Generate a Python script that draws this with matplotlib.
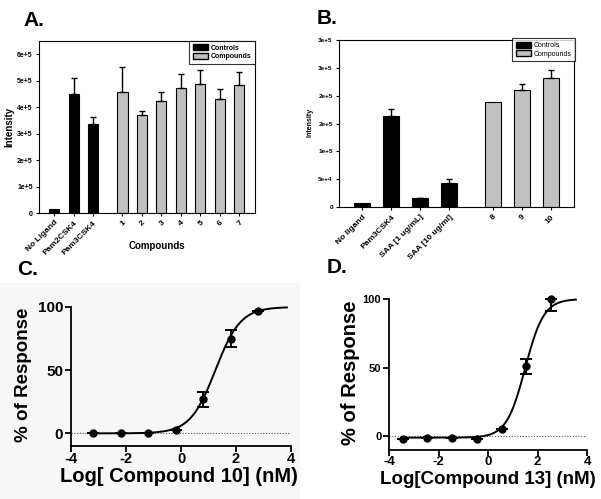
import numpy as np
import matplotlib
matplotlib.use("Agg")
import matplotlib.pyplot as plt
from matplotlib.patches import Patch, Rectangle
from matplotlib.ticker import FixedLocator, FixedFormatter

plt.rcParams['font.family'] = ['Liberation Sans', 'DejaVu Sans']
plt.rcParams['font.weight'] = 'bold'

# ---------------- data ----------------
a_labels = ["No Ligand", "Pam2CSK4", "Pam3CSK4", "1", "2", "3", "4", "5", "6", "7"]
a_is_control = [True, True, True, False, False, False, False, False, False, False]
a_values = [1.5e4, 4.5e5, 3.38e5, 4.57e5, 3.71e5, 4.25e5, 4.71e5, 4.86e5, 4.30e5, 4.85e5]
a_err = [0, 0.60e5, 0.24e5, 0.93e5, 0.16e5, 0.33e5, 0.54e5, 0.54e5, 0.39e5, 0.49e5]
a_yticks = [0, 1e5, 2e5, 3e5, 4e5, 5e5, 6e5]
a_yticklabels = ["0", "1e+5", "2e+5", "3e+5", "4e+5", "5e+5", "6e+5"]

b_labels = ["No ligand", "Pam3CSK4", "SAA [1 ug/mL]", "SAA [10 ug/ml]", "8", "9", "10"]
b_is_control = [True, True, True, True, False, False, False]
b_values = [6.6e3, 1.63e5, 1.6e4, 4.4e4, 1.89e5, 2.11e5, 2.31e5]
b_err = [0, 1.3e4, 1.0e3, 6.0e3, 0, 1.0e4, 1.5e4]
b_yticks = [0, 5e4, 1e5, 1.5e5, 2e5, 2.5e5, 3e5]
b_yticklabels = ["0", "5e+4", "1e+5", "2e+5", "2e+5", "3e+5", "3e+5"]

c_logx = [-3.2, -2.2, -1.2, -0.2, 0.8, 1.8, 2.8]
c_resp = [0, 0, 0, 2.5, 27, 75, 97]
c_err_lo = [0, 0, 0, 0, 6, 7, 0]
c_err_hi = [0, 0, 0, 0, 6, 7, 0]
c_fit = dict(bottom=0.0, top=100.0, logec50=1.25, hill=0.95, xmin=-3.2, xmax=3.85)

d_logx = [-3.45, -2.45, -1.45, -0.45, 0.55, 1.55, 2.55]
d_resp = [-2, -1, -1, -2, 5, 51, 100]
d_err_lo = [0, 0, 0, 0, 0, 5.5, 9]
d_err_hi = [0, 0, 0, 0, 0, 5.5, 0]
d_fit = dict(bottom=-1.0, top=100.0, logec50=1.5, hill=1.15, xmin=-3.45, xmax=3.55)

dose_xticks = [-4, -2, 0, 2, 4]
dose_yticks = [0, 50, 100]

BLACK = "#000000"
GRAY = "#c0c0c0"

W, H = 601, 499
fig = plt.figure(figsize=(W / 100, H / 100), dpi=100)

def rect(l, t, r, b):
    return [l / W, (H - b) / H, (r - l) / W, (b - t) / H]

# faint background behind panel C
bg = Rectangle((0, 0), 300 / W, (H - 283) / H, transform=fig.transFigure,
               facecolor="#f7f7f7", edgecolor="none", zorder=-5)
fig.add_artist(bg)


def bar_panel(ax, labels, is_control, values, err, yticks, yticklabels, ymax, xlim,
              width, fs_ytick, fs_xtick, legend_bbox, fs_leg, leg_weight):
    pos = []
    p = 0.0
    prev = None
    for c in is_control:
        if prev is not None:
            p += 1.0 if c == prev else 1.5
        pos.append(p)
        prev = c
    colors = [BLACK if c else GRAY for c in is_control]
    ax.bar(pos, values, width=width, color=colors, edgecolor=BLACK, linewidth=0.8, zorder=2)
    for x, v, e in zip(pos, values, err):
        if e > 0:
            ax.errorbar([x], [v], yerr=[[0], [e]], fmt="none", ecolor=BLACK,
                        elinewidth=1.0, capsize=2.5, capthick=1.0, zorder=3)
    ax.set_xlim(*xlim)
    ax.set_ylim(0, ymax)
    ax.yaxis.set_major_locator(FixedLocator(yticks))
    ax.yaxis.set_major_formatter(FixedFormatter(yticklabels))
    ax.set_xticks(pos)
    ax.set_xticklabels(labels, rotation=45, ha="right", rotation_mode="anchor",
                       fontsize=fs_xtick, fontweight="bold")
    ax.tick_params(axis="both", direction="out", length=2.5, width=0.8, pad=2)
    ax.tick_params(axis="y", labelsize=fs_ytick)
    for s in ax.spines.values():
        s.set_linewidth(0.8)
    handles = [Patch(facecolor=BLACK, edgecolor=BLACK, label="Controls"),
               Patch(facecolor=GRAY, edgecolor=BLACK, label="Compounds")]
    leg = ax.legend(handles=handles, loc="upper right", bbox_to_anchor=legend_bbox,
                    prop={"size": fs_leg, "weight": leg_weight}, frameon=True, fancybox=False,
                    edgecolor=BLACK, borderpad=0.5, handlelength=2.2, handleheight=0.9,
                    labelspacing=0.2, handletextpad=0.4, borderaxespad=0)
    leg.get_frame().set_linewidth(0.8)


# ---------------- Panel A ----------------
axA = fig.add_axes(rect(39, 41, 255, 213))
bar_panel(axA, a_labels, a_is_control, a_values, a_err, a_yticks, a_yticklabels,
          6.5e5, (-0.78, 10.3), 0.52, 5, 6, (1.0, 1.0), 5, "bold")
fig.text(9 / W, (H - 127) / H, "Intensity", rotation=90, ha="center", va="center",
         fontsize=7, fontweight="bold")
fig.text(157 / W, (H - 246) / H, "Compounds", ha="center", va="center",
         fontsize=7, fontweight="bold")
fig.text(23 / W, (H - 26) / H, "A.", fontsize=15, fontweight="bold", ha="left", va="baseline")

# ---------------- Panel B ----------------
axB = fig.add_axes(rect(339, 40, 574, 207))
bar_panel(axB, b_labels, b_is_control, b_values, b_err, b_yticks, b_yticklabels,
          3e5, (-0.8, 7.3), 0.55, 4.6, 6, (1.005, 1.01), 5, "normal")
fig.text(310 / W, (H - 122) / H, "Intensity", rotation=90, ha="center", va="center",
         fontsize=5, fontweight="bold")
fig.text(317 / W, (H - 24) / H, "B.", fontsize=15, fontweight="bold", ha="left", va="baseline")


# ---------------- dose response panels ----------------
def dose_panel(ax, logx, resp, elo, ehi, fit, fs_xt, fs_yt):
    ax.set_facecolor("none")
    xs = np.linspace(fit["xmin"], fit["xmax"], 300)
    ys = fit["bottom"] + (fit["top"] - fit["bottom"]) / (1 + 10 ** ((fit["logec50"] - xs) * fit["hill"]))
    ax.axhline(0, color="#555555", lw=0.8, ls=(0, (1, 1.5)), zorder=1)
    ax.plot(xs, ys, color=BLACK, lw=1.4, zorder=2, clip_on=False)
    ax.errorbar(logx, resp, yerr=[elo, ehi], fmt="none", ecolor=BLACK, elinewidth=1.4,
                capsize=4, capthick=1.4, zorder=3, clip_on=False)
    ax.plot(logx, resp, "o", color=BLACK, ms=5, zorder=4, clip_on=False)
    ax.set_xlim(-4, 4)
    ax.set_ylim(-10, 100)
    ax.set_xticks(dose_xticks)
    ax.set_xticklabels([str(v) for v in dose_xticks], fontsize=fs_xt, fontweight="bold")
    ax.set_yticks(dose_yticks)
    ax.set_yticklabels([str(v) for v in dose_yticks], fontsize=fs_yt, fontweight="bold")
    ax.tick_params(direction="out", length=4, width=1.3)
    ax.tick_params(axis="x", pad=0.5)
    ax.tick_params(axis="y", pad=1.5)
    for s in ("top", "right"):
        ax.spines[s].set_visible(False)
    for s in ("left", "bottom"):
        ax.spines[s].set_linewidth(1.3)


axC = fig.add_axes(rect(71, 307, 291, 446))
dose_panel(axC, c_logx, c_resp, c_err_lo, c_err_hi, c_fit, 10.5, 11)
fig.text(24 / W, (H - 375) / H, "% of Response", rotation=90, ha="center", va="center",
         fontsize=13.5, fontweight="bold")
fig.text(179 / W, (H - 477) / H, "Log[ Compound 10] (nM)", ha="center", va="center",
         fontsize=14.5, fontweight="bold")
fig.text(17 / W, (H - 275) / H, "C.", fontsize=15, fontweight="bold", ha="left", va="baseline")

axD = fig.add_axes(rect(389, 299, 587, 450))
dose_panel(axD, d_logx, d_resp, d_err_lo, d_err_hi, d_fit, 9.5, 8)
fig.text(350 / W, (H - 373) / H, "% of Response", rotation=90, ha="center", va="center",
         fontsize=14.5, fontweight="bold")
fig.text(488 / W, (H - 479) / H, "Log[Compound 13] (nM)", ha="center", va="center",
         fontsize=13.5, fontweight="bold")
fig.text(327 / W, (H - 273) / H, "D.", fontsize=15, fontweight="bold", ha="left", va="baseline")

fig.savefig("out.png", dpi=100)
